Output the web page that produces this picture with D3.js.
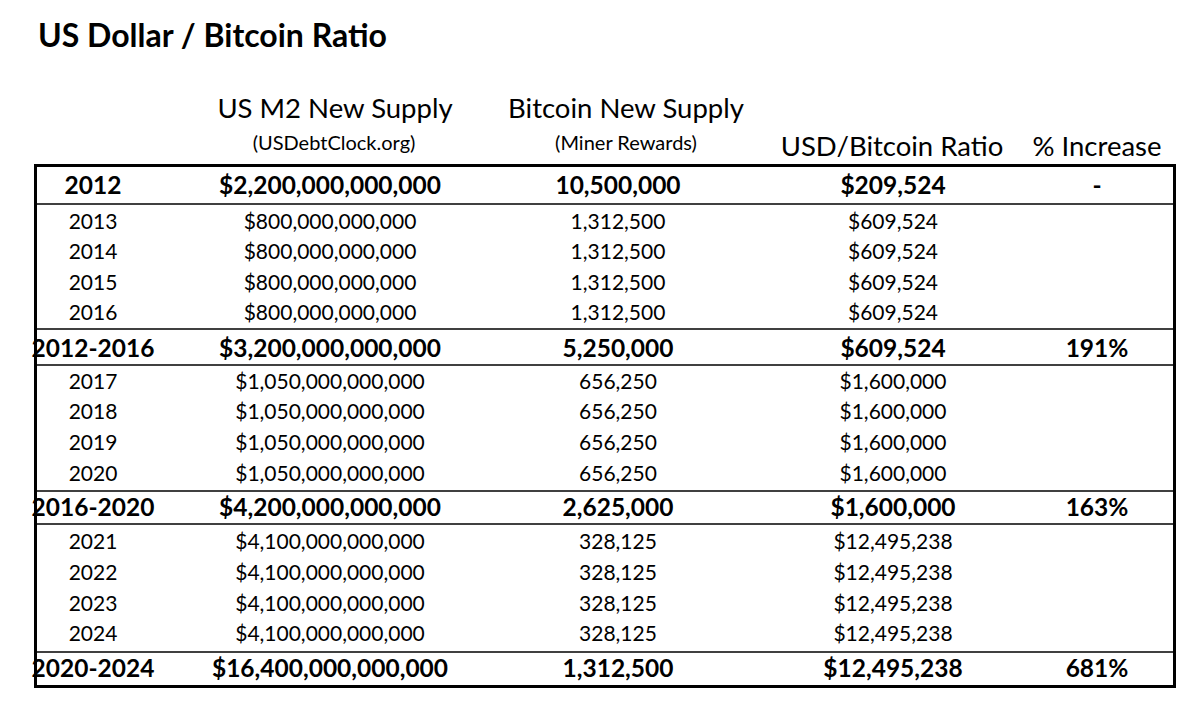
<!DOCTYPE html><html><head><meta charset="utf-8">
<script src="https://cdn.jsdelivr.net/npm/d3@7"></script>
<style>body{margin:0;background:#fff}</style></head><body>
<svg id="c" width="1200" height="712"></svg>
<script>
const labels=["2012","2013","2014","2015","2016","2012-2016","2017","2018","2019","2020","2016-2020","2021","2022","2023","2024","2020-2024"];
const m2=["$2,200,000,000,000","$800,000,000,000","$800,000,000,000","$800,000,000,000","$800,000,000,000","$3,200,000,000,000","$1,050,000,000,000","$1,050,000,000,000","$1,050,000,000,000","$1,050,000,000,000","$4,200,000,000,000","$4,100,000,000,000","$4,100,000,000,000","$4,100,000,000,000","$4,100,000,000,000","$16,400,000,000,000"];
const btc=["10,500,000","1,312,500","1,312,500","1,312,500","1,312,500","5,250,000","656,250","656,250","656,250","656,250","2,625,000","328,125","328,125","328,125","328,125","1,312,500"];
const ratio=["$209,524","$609,524","$609,524","$609,524","$609,524","$609,524","$1,600,000","$1,600,000","$1,600,000","$1,600,000","$1,600,000","$12,495,238","$12,495,238","$12,495,238","$12,495,238","$12,495,238"];
const pct=["-","","","","","191%","","","","","163%","","","","","681%"];
const bold=[1,0,0,0,0,1,0,0,0,0,1,0,0,0,0,1];
const rowY=[185,221,251,282,312,348,381,411,442,473,507,541,572,603,633,668];
const lines=[204,329,365,491,524,652];
const svg=d3.select("#c"),F="Lato, 'Open Sans', sans-serif";
svg.append("text").attr("x",38).attr("y",47).attr("font-family",F).attr("font-weight","bold").attr("font-size",32).text("US Dollar / Bitcoin Ratio");
const cx=[93,330,618,893,1097];
const hdr=[[335,118,"US M2 New Supply",27.5],[334,150,"(USDebtClock.org)",20],[626,118,"Bitcoin New Supply",27.5],[626,150,"(Miner Rewards)",20],[892,156,"USD/Bitcoin Ratio",27.5],[1097,156,"% Increase",27.5]];
svg.selectAll(".h").data(hdr).join("text").attr("x",d=>d[0]).attr("y",d=>d[1]).attr("font-size",d=>d[3]).attr("font-family",F).attr("text-anchor","middle").text(d=>d[2]);
svg.append("rect").attr("x",35.5).attr("y",165.5).attr("width",1139).attr("height",521).attr("fill","none").attr("stroke","#000").attr("stroke-width",3);
svg.selectAll(".l").data(lines).join("line").attr("x1",36).attr("x2",1174).attr("y1",d=>d).attr("y2",d=>d).attr("stroke","#000").attr("stroke-width",1.5);
const cols=[labels,m2,btc,ratio,pct];
cols.forEach((col,ci)=>{
 svg.append("g").selectAll("text").data(col).join("text")
  .attr("x",cx[ci]).attr("y",(d,i)=>rowY[i]+(bold[i]?8.5:7.5)).attr("text-anchor","middle")
  .attr("font-family",F).attr("font-size",(d,i)=>bold[i]?24.5:21).attr("font-weight",(d,i)=>bold[i]?"bold":"normal").text(d=>d);
});
</script></body></html>
